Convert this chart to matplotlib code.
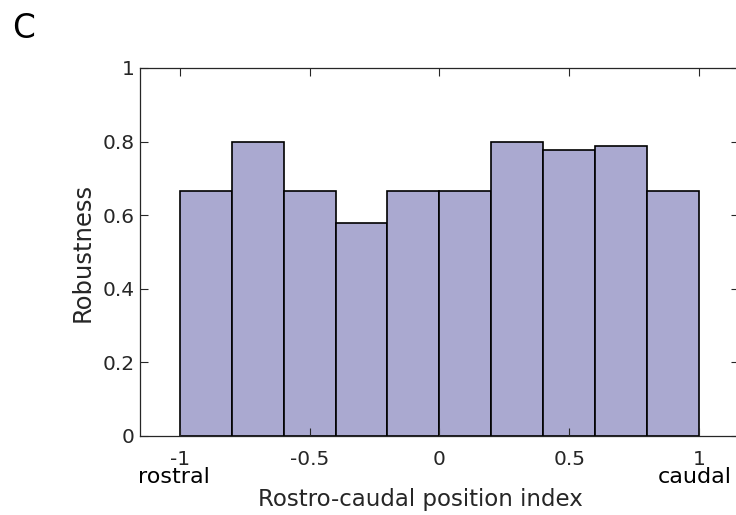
import matplotlib
matplotlib.use("Agg")
import matplotlib.pyplot as plt
import numpy as np

# bin edges along the rostro-caudal index and robustness per bin
bin_edges = [-1.0, -0.8, -0.6, -0.4, -0.2, 0.0, 0.2, 0.4, 0.6, 0.8, 1.0]
robustness = [0.667, 0.8, 0.667, 0.579, 0.667, 0.667, 0.8, 0.778, 0.789, 0.667]
xtick_vals = [-1, -0.5, 0, 0.5, 1]
xtick_labels = ["-1", "-0.5", "0", "0.5", "1"]
ytick_vals = [0, 0.2, 0.4, 0.6, 0.8, 1]
ytick_labels = ["0", "0.2", "0.4", "0.6", "0.8", "1"]

axcol = "#262626"
plt.rcParams["font.family"] = "DejaVu Sans"

fig = plt.figure(figsize=(7.36, 5.15), dpi=100)
ax = fig.add_axes([0.190, 0.1534, 0.814, 0.7146])

edges = np.array(bin_edges)
ax.bar(edges[:-1], robustness, width=np.diff(edges), align="edge",
       color="#aaa9d0", edgecolor="black", linewidth=1.2)

ax.set_xlim(-1.154, 1.154)
ax.set_ylim(0, 1)
ax.set_xticks(xtick_vals)
ax.set_xticklabels(xtick_labels)
ax.set_yticks(ytick_vals)
ax.set_yticklabels(ytick_labels)
ax.tick_params(direction="in", top=True, right=True, length=6, width=0.8,
               colors=axcol, labelsize=14.5)
ax.tick_params(axis="x", pad=10)
ax.tick_params(axis="y", pad=4)
for s in ax.spines.values():
    s.set_color(axcol)
    s.set_linewidth(0.9)
ax.spines["right"].set_visible(False)

# end labels under the -1 and 1 ticks
tr = ax.get_xaxis_transform()
ax.text(-1.021, -0.128, "rostral", transform=tr, ha="center", va="baseline",
        fontsize=16, color="black")
ax.text(0.985, -0.128, "caudal", transform=tr, ha="center", va="baseline",
        fontsize=16, color="black")

xl = ax.set_xlabel("Rostro-caudal position index", fontsize=16.5, color=axcol)
xl.set_va("baseline")
ax.xaxis.set_label_coords(0.468, -0.190)
yl = ax.set_ylabel("Robustness", fontsize=17.5, color=axcol)
yl.set_va("center")
ax.yaxis.set_label_coords(-0.095, 0.5)

fig.text(0.016, 0.977, "C", fontsize=23.5, va="top", ha="left")

fig.savefig("out.png", dpi=100)
